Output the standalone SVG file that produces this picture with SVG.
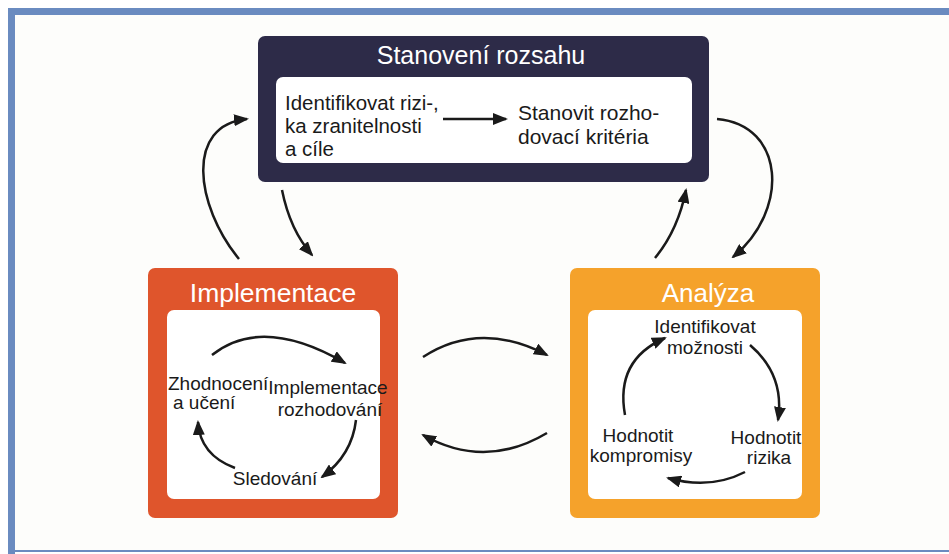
<svg xmlns="http://www.w3.org/2000/svg" width="949" height="554" viewBox="0 0 949 554">
<defs>
<marker id="ah" markerUnits="userSpaceOnUse" markerWidth="15" markerHeight="12" refX="13" refY="6" orient="auto">
<path d="M0,0 L15,6 L0,12 z" fill="#1a1a1a"/>
</marker>
<style>
.t{font-family:"Liberation Sans",Arial,sans-serif;fill:#1a1a1a}
.h{font-family:"Liberation Sans",Arial,sans-serif;fill:#ffffff;text-anchor:middle}
.m{text-anchor:middle}
.c{fill:none;stroke:#1a1a1a;stroke-width:2.5;marker-end:url(#ah)}
</style>
</defs>
<rect x="0" y="0" width="949" height="554" fill="#ffffff"/>
<rect x="15" y="15" width="934" height="535" fill="#fdfdfb"/>
<g id="frame" fill="#6a8bc0">
<rect x="8" y="8" width="941" height="7"/>
<rect x="8" y="8" width="7" height="546"/>
<rect x="8" y="550" width="941" height="2"/>
</g>
<g id="scope">
<rect x="258" y="36" width="451" height="146" rx="7" fill="#2d2b48"/>
<rect x="276" y="77" width="416" height="86" rx="7" fill="#ffffff"/>
<text class="h" x="481" y="64" font-size="25">Stanovení rozsahu</text>
<text class="t" x="285" y="110" font-size="20.5">Identifikovat rizi-,</text>
<text class="t" x="285" y="133" font-size="20.5">ka zranitelnosti</text>
<text class="t" x="285" y="156" font-size="20.5">a cíle</text>
<text class="t" x="518" y="120" font-size="21">Stanovit rozho-</text>
<text class="t" x="518" y="144" font-size="21">dovací kritéria</text>
<path class="c" d="M443,119 L506,119"/>
</g>
<g id="implementace">
<rect x="148" y="268" width="250" height="250" rx="7" fill="#df552c"/>
<rect x="167" y="310" width="213" height="189" rx="7" fill="#ffffff"/>
<text class="h" x="273" y="302" font-size="26.5">Implementace</text>
<text class="t" x="168" y="390" font-size="19">Zhodnocení</text>
<text class="t" x="173" y="409" font-size="19">a učení</text>
<text class="t m" x="328" y="394" font-size="19">Implementace</text>
<text class="t m" x="330" y="416" font-size="19">rozhodování</text>
<text class="t m" x="275" y="485" font-size="19">Sledování</text>
<path class="c" d="M212,355 Q262,315 345,363"/>
<path class="c" d="M356,420 Q352,455 322,477"/>
<path class="c" d="M235,468 Q200,455 198,422"/>
</g>
<g id="analyza">
<rect x="570" y="268" width="250" height="250" rx="7" fill="#f5a22b"/>
<rect x="588" y="310" width="214" height="189" rx="7" fill="#ffffff"/>
<text class="h" x="708" y="302" font-size="26">Analýza</text>
<text class="t m" x="705" y="333" font-size="19">Identifikovat</text>
<text class="t m" x="705" y="354" font-size="19">možnosti</text>
<text class="t m" x="766" y="444" font-size="19">Hodnotit</text>
<text class="t m" x="769" y="464" font-size="19">rizika</text>
<text class="t m" x="638" y="442" font-size="19">Hodnotit</text>
<text class="t m" x="641" y="462" font-size="19">kompromisy</text>
<path class="c" d="M750,345 Q785,375 778,420"/>
<path class="c" d="M745,472 Q710,490 668,478"/>
<path class="c" d="M625,415 Q615,360 665,338"/>
</g>
<g id="connectors">
<path class="c" d="M239,259 C195,205 185,125 247,119"/>
<path class="c" d="M282,190 Q290,230 312,255"/>
<path class="c" d="M717,119 C785,125 790,210 733,257"/>
<path class="c" d="M655,258 Q678,230 686,190"/>
<path class="c" d="M423,357 Q480,320 547,355"/>
<path class="c" d="M547,433 Q485,470 423,435"/>
</g>
</svg>
